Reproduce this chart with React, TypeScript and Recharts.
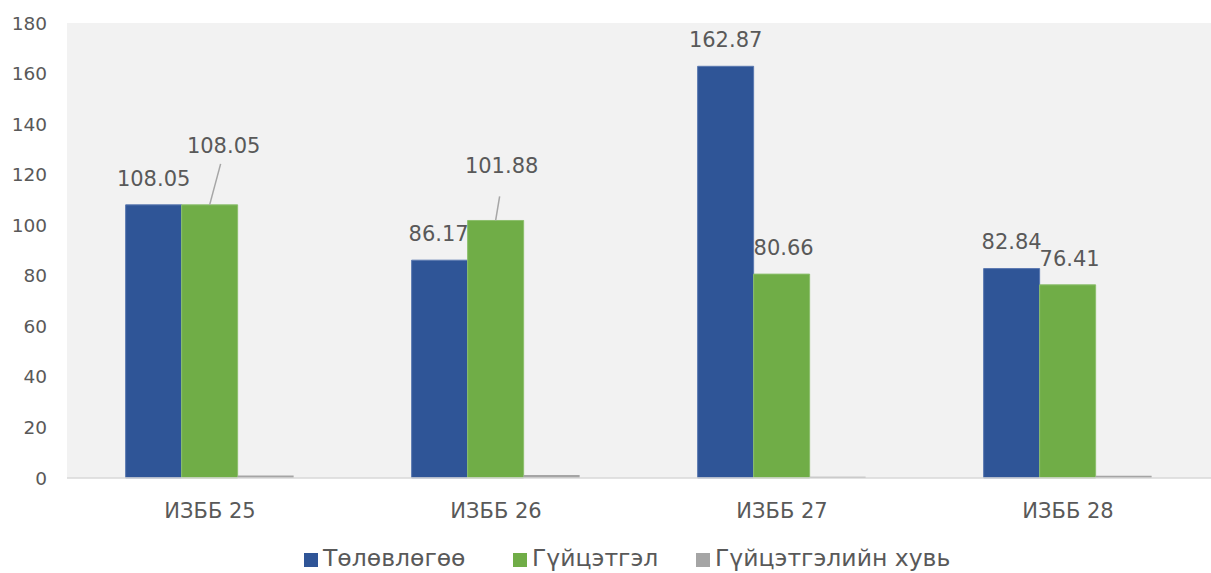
import React from "react";
import { BarChart, Bar, XAxis, YAxis, CartesianGrid, LabelList } from "recharts";

const categories = ["ИЗББ 25", "ИЗББ 26", "ИЗББ 27", "ИЗББ 28"];
const plan = [108.05, 86.17, 162.87, 82.84];
const actual = [108.05, 101.88, 80.66, 76.41];
const percent = [1.0, 1.18, 0.5, 0.92];
const yTicks = [0, 20, 40, 60, 80, 100, 120, 140, 160, 180];
const seriesNames = ["Төлөвлөгөө", "Гүйцэтгэл", "Гүйцэтгэлийн хувь"];

const data = categories.map((name, i) => ({
  name,
  plan: plan[i],
  actual: actual[i],
  percent: percent[i],
}));

const COLORS = ["#2f5597", "#70ad47", "#a5a5a5"];
const FONT = "'DejaVu Sans', sans-serif";
const TEXT = "#595959";

// label placement (text centre relative to bar top centre), like Excel's moved labels
const planShift = [[0, -26], [-1, -26], [0, -26], [0, -27]];
const actualShift = [[14, -59], [6, -54], [2, -26], [2, -26]];
const actualLeader: (number[] | null)[] = [[11, -41], [4, -24], null, null];

const makeLabel = (shift: number[][], leaders?: (number[] | null)[]) => (props: any) => {
  const { x, y, width, value, index } = props;
  const cx = Number(x) + Number(width) / 2;
  const top = Number(y);
  const [dx, dy] = shift[index];
  const leader = leaders ? leaders[index] : null;
  return (
    <g>
      {leader && (
        <line x1={cx} y1={top} x2={cx + leader[0]} y2={top + leader[1]} stroke="#a6a6a6" strokeWidth={1.5} />
      )}
      <text
        x={cx + dx}
        y={top + dy}
        textAnchor="middle"
        dominantBaseline="central"
        fontFamily={FONT}
        fontSize={21}
        fill={TEXT}
      >
        {value}
      </text>
    </g>
  );
};

const legendX = [304, 513, 696];

export default function App() {
  return (
    <div style={{ position: "absolute", left: 0, top: 0, width: 1211, height: 573, background: "#fff" }}>
      <BarChart
        width={1211}
        height={573}
        data={data}
        margin={{ top: 23, right: 0, left: 0, bottom: 0 }}
        barCategoryGap="20.5%"
        barGap={0}
      >
        <CartesianGrid fill="#f2f2f2" horizontal={false} vertical={false} />
        <YAxis
          domain={[0, 180]}
          ticks={yTicks}
          width={67}
          axisLine={false}
          tickLine={false}
          tickSize={0}
          tickMargin={20}
          tick={{ fontFamily: FONT, fontSize: 18.5, fill: TEXT }}
        />
        <XAxis
          dataKey="name"
          height={95}
          axisLine={{ stroke: "#d9d9d9", strokeWidth: 1.5 }}
          tickLine={false}
          tickSize={0}
          tickMargin={25}
          tick={{ fontFamily: FONT, fontSize: 21, fill: TEXT }}
        />
        <Bar dataKey="plan" name={seriesNames[0]} fill={COLORS[0]} stroke="#5a78b0" strokeWidth={1} isAnimationActive={false}>
          <LabelList dataKey="plan" content={makeLabel(planShift)} />
        </Bar>
        <Bar dataKey="actual" name={seriesNames[1]} fill={COLORS[1]} stroke="#8cbf6c" strokeWidth={1} isAnimationActive={false}>
          <LabelList dataKey="actual" content={makeLabel(actualShift, actualLeader)} />
        </Bar>
        <Bar dataKey="percent" name={seriesNames[2]} fill={COLORS[2]} isAnimationActive={false} />
      </BarChart>
      <svg width={1211} height={573} style={{ position: "absolute", left: 0, top: 0, pointerEvents: "none" }}>
        {seriesNames.map((n, i) => (
          <g key={n}>
            <rect x={legendX[i]} y={553} width={14} height={14} fill={COLORS[i]} />
            <text x={legendX[i] + 19} y={566} fontFamily={FONT} fontSize={23.5} fill={TEXT}>
              {n}
            </text>
          </g>
        ))}
      </svg>
    </div>
  );
}
